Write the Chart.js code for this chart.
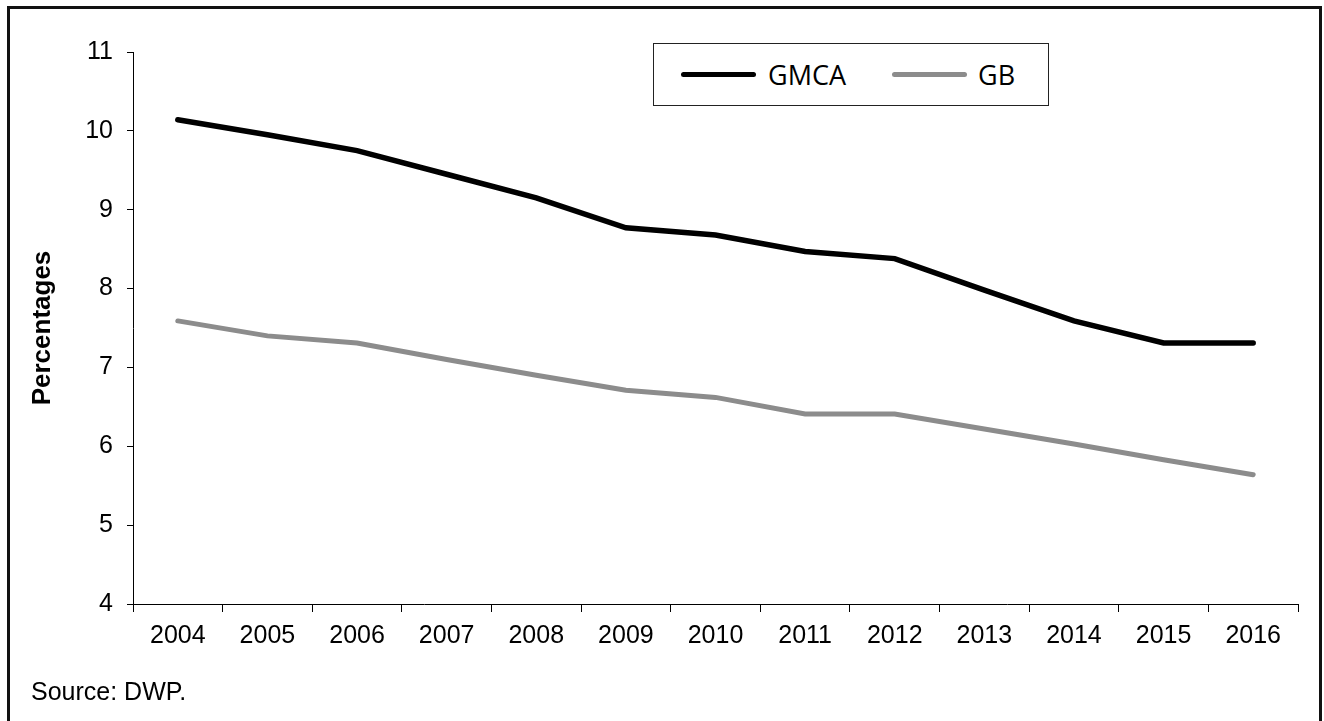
<!DOCTYPE html>
<html>
<head>
<meta charset="utf-8">
<script src="https://cdn.jsdelivr.net/npm/chart.js@4/dist/chart.umd.min.js"></script>
<style>
  html, body { margin: 0; padding: 0; background: #fff; }
  body { width: 1324px; height: 721px; position: relative; overflow: hidden; }
  #frame {
    position: absolute; left: 7px; top: 6px; width: 1309px; height: 730px;
    border: 3px solid #111; border-bottom: none;
  }
  #wrap { position: absolute; left: 0; top: 0; width: 1324px; height: 721px; }
  #legend {
    position: absolute; left: 653px; top: 43px; width: 394px; height: 61px;
    border: 1.5px solid #222; background: #fff;
    display: flex; align-items: center; box-sizing: content-box;
    font-family: "Open Sans", sans-serif; font-size: 27px; color: #000;
  }
  #legend .swatch { display: inline-block; width: 75px; height: 5px; border-radius: 3px; }
  #legend .item { display: flex; align-items: center; }
  #source {
    position: absolute; left: 31px; top: 676px; line-height: 30px;
    font-family: "Liberation Sans", Arial, sans-serif; font-size: 25px; color: #000;
  }
</style>
</head>
<body>
<div id="frame"></div>
<div id="wrap"><canvas id="rateChart" width="1324" height="721"></canvas></div>
<div id="legend"></div>
<div id="source">Source: DWP.</div>
<script>
// Years on the x axis
var years = ['2004', '2005', '2006', '2007', '2008', '2009', '2010',
             '2011', '2012', '2013', '2014', '2015', '2016'];

// Rates for Greater Manchester and Great Britain (%)
var gmcaValues = [10.14, 9.95, 9.75, 9.45, 9.15, 8.77, 8.68, 8.47, 8.38, 7.98, 7.59, 7.31, 7.31];
var gbValues = [7.59, 7.40, 7.31, 7.10, 6.90, 6.71, 6.62, 6.41, 6.41, 6.22, 6.03, 5.83, 5.64];

var yMin = 4;
var yMax = 11;

var tickFont = { family: '"Liberation Sans", Arial, sans-serif', size: 25 };

var ctx = document.getElementById('rateChart').getContext('2d');
var rateChart = new Chart(ctx, {
    type: 'line',
    data: {
        labels: years,
        datasets: [{
            label: 'GMCA',
            data: gmcaValues,
            borderColor: '#000000',
            borderWidth: 5.5,
            borderCapStyle: 'round',
            pointRadius: 0,
            tension: 0
        }, {
            label: 'GB',
            data: gbValues,
            borderColor: '#8c8c8c',
            borderWidth: 5,
            borderCapStyle: 'round',
            pointRadius: 0,
            tension: 0
        }]
    },
    options: {
        responsive: false,
        animation: false,
        layout: {
            padding: { left: 20, right: 26, top: 52, bottom: 67 }
        },
        plugins: {
            legend: { display: false },
            tooltip: { enabled: false }
        },
        scales: {
            x: {
                offset: true,
                grid: {
                    offset: true,
                    drawOnChartArea: false,
                    tickLength: 8,
                    color: '#000'
                },
                border: { color: '#000', width: 1 },
                ticks: {
                    color: '#000',
                    font: tickFont,
                    padding: 9,
                    maxRotation: 0
                },
                afterFit: function(scale) { scale.height = 50; }
            },
            y: {
                min: yMin,
                max: yMax,
                grid: {
                    drawOnChartArea: false,
                    tickLength: 6,
                    color: '#000'
                },
                border: { color: '#000', width: 1 },
                ticks: {
                    stepSize: 1,
                    color: '#000',
                    font: tickFont,
                    padding: 14
                },
                title: {
                    display: true,
                    text: 'Percentages',
                    color: '#000',
                    font: { family: '"Liberation Sans", Arial, sans-serif', size: 26, weight: 'bold' },
                    padding: { top: 7, bottom: 0 }
                },
                afterFit: function(scale) { scale.width = 113; }
            }
        }
    }
});

// Legend box built from the datasets
var legendEl = document.getElementById('legend');
var gaps = [27, 46];
rateChart.data.datasets.forEach(function(ds, i) {
    var item = document.createElement('span');
    item.className = 'item';
    item.style.marginLeft = gaps[i] + 'px';
    var sw = document.createElement('span');
    sw.className = 'swatch';
    sw.style.background = ds.borderColor;
    var txt = document.createElement('span');
    txt.textContent = ds.label;
    txt.style.marginLeft = (i === 0 ? 12 : 11) + 'px';
    item.appendChild(sw);
    item.appendChild(txt);
    legendEl.appendChild(item);
});
</script>
</body>
</html>
